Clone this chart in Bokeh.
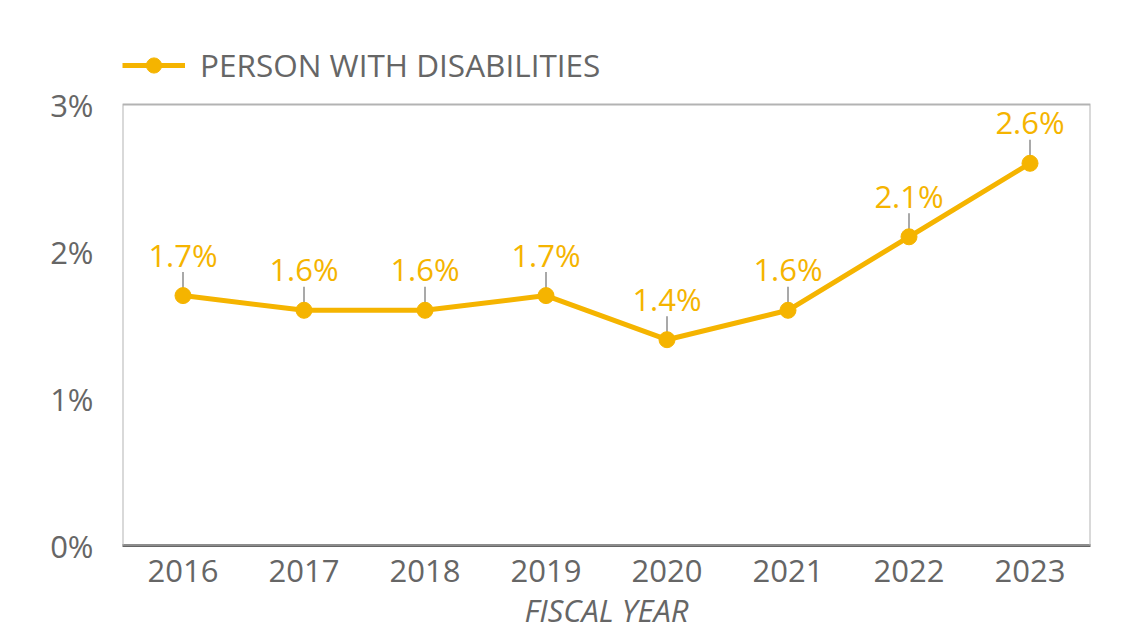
from bokeh.plotting import figure
from bokeh.models import (ColumnDataSource, LabelSet, Legend, LegendItem,
                          FixedTicker, CustomJSTickFormatter, BoxAnnotation)
from bokeh.core.properties import value
from bokeh.embed import file_html
from bokeh.resources import INLINE

years = ["2016", "2017", "2018", "2019", "2020", "2021", "2022", "2023"]
share = [1.7, 1.6, 1.6, 1.7, 1.4, 1.6, 2.1, 2.6]
labels = [f"{v:.1f}%" for v in share]
series_name = "PERSON WITH DISABILITIES"
y_ticks = [0, 1, 2, 3]
y_max = 3

YELLOW = "#F5B400"
GRAY_TXT = "#666666"
FONT = "Open Sans"
LEADER = 0.16      # leader line length in axis units
HEADROOM = 0.415   # room above the plot box for the legend (axis units)

src = ColumnDataSource(dict(x=years, y=share, lab=labels,
                            ytop=[v + LEADER for v in share]))

p = figure(x_range=years, y_range=(0, y_max + HEADROOM),
           frame_width=968, frame_height=502,
           min_border_left=122, min_border_top=43, min_border_right=39,
           min_border_bottom=90, output_backend="svg", toolbar_location=None,
           background_fill_color="white", border_fill_color="white")

p.outline_line_color = None
p.xgrid.grid_line_color = None
p.ygrid.grid_line_color = None

# plot box (0..3%)
p.add_layout(BoxAnnotation(bottom=0, top=y_max, fill_alpha=0,
                           line_color="#b3b3b3", line_alpha=1.0,
                           line_width=2))

# axes
p.xaxis.axis_line_color = "#666666"
p.xaxis.axis_line_width = 3
p.xaxis.major_tick_line_color = None
p.xaxis.minor_tick_line_color = None
p.xaxis.major_label_text_font = FONT
p.xaxis.major_label_text_font_size = "31px"
p.xaxis.major_label_text_color = GRAY_TXT
p.xaxis.major_label_standoff = 8
p.xaxis.axis_label = "FISCAL YEAR"
p.xaxis.axis_label_text_font = FONT
p.xaxis.axis_label_text_font_size = "31px"
p.xaxis.axis_label_text_font_style = "italic"
p.xaxis.axis_label_text_color = GRAY_TXT
p.xaxis.axis_label_standoff = 4

p.yaxis.ticker = FixedTicker(ticks=y_ticks)
p.yaxis.formatter = CustomJSTickFormatter(code="return tick.toFixed(0) + '%';")
p.yaxis.axis_line_color = None
p.yaxis.major_tick_line_color = None
p.yaxis.minor_tick_line_color = None
p.yaxis.major_label_text_font = FONT
p.yaxis.major_label_text_font_size = "31px"
p.yaxis.major_label_text_color = GRAY_TXT
p.yaxis.major_label_standoff = 23

# leader lines
p.segment(x0="x", y0="y", x1="x", y1="ytop", source=src,
          line_color="#8c8c8c", line_width=1.5)

ln = p.line("x", "y", source=src, line_color=YELLOW, line_width=5)
pts = p.scatter("x", "y", source=src, size=16, fill_color=YELLOW,
                line_color=YELLOW)

labs = LabelSet(x="x", y="y", text="lab", source=src, y_offset=29,
                text_align="center", text_baseline="alphabetic",
                text_font=value(FONT), text_font_size="31px", text_color=YELLOW)
p.add_layout(labs)

legend = Legend(items=[LegendItem(label=series_name, renderers=[ln, pts])],
                location="top_left", orientation="horizontal",
                glyph_width=63, glyph_height=38, label_height=38,
                padding=0, margin=0,
                label_standoff=15, border_line_color=None,
                background_fill_alpha=0,
                label_text_font=FONT, label_text_font_size="31.5px",
                label_text_color=GRAY_TXT)
p.add_layout(legend)

open("out.html", "w").write(file_html(p, INLINE))
